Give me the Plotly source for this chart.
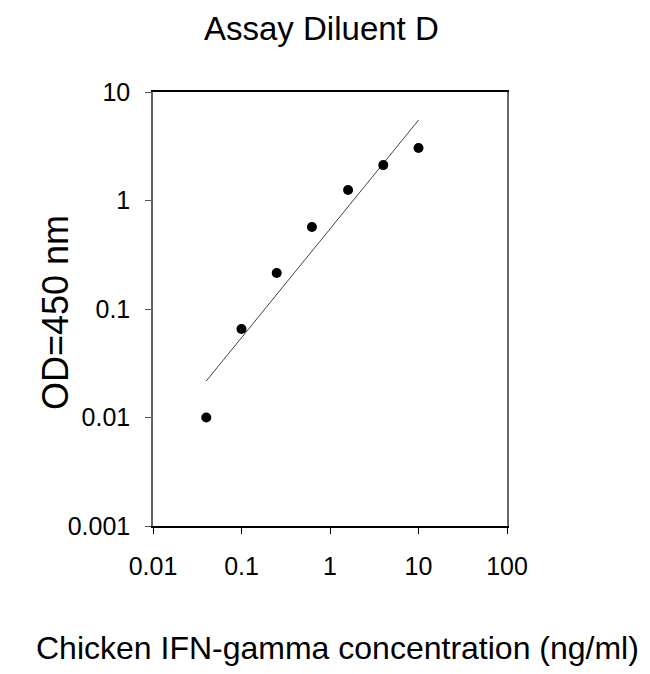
import plotly.graph_objects as go

# Data
conc = [0.04, 0.1, 0.25, 0.625, 1.6, 4.0, 10.0]
od = [0.0100, 0.0655, 0.215, 0.57, 1.25, 2.12, 3.05]
fit_x = [0.04, 10.0]
fit_y = [0.0217, 5.5]

x_ticks = [0.01, 0.1, 1, 10, 100]
x_tick_labels = ["0.01", "0.1", "1", "10", "100"]
y_ticks = [0.001, 0.01, 0.1, 1, 10]
y_tick_labels = ["0.001", "0.01", "0.1", "1", "10"]

FONT = "Liberation Sans, Arial, sans-serif"

fig = go.Figure()
fig.add_trace(go.Scatter(x=fit_x, y=fit_y, mode="lines",
                         line=dict(color="#444444", width=1), showlegend=False))
fig.add_trace(go.Scatter(x=conc, y=od, mode="markers",
                         marker=dict(color="black", size=10), showlegend=False))

W, H = 650, 674
L, R, T, B = 145, 151, 84, 156
PW, PH = W - L - R, H - T - B

fig.update_layout(
    width=W, height=H,
    margin=dict(l=L, r=R, t=T, b=B),
    plot_bgcolor="white", paper_bgcolor="white",
    font=dict(family=FONT, color="black"),
)
fig.update_xaxes(type="log", range=[-2, 2], tickvals=x_ticks, ticktext=x_tick_labels,
                 showgrid=False, zeroline=False, showline=True, linecolor="black",
                 linewidth=2, mirror=True, ticks="outside", ticklen=6, tickcolor="black",
                 ticklabelstandoff=11,
                 tickfont=dict(family=FONT, size=25, color="black"))
fig.update_yaxes(type="log", range=[-3, 1], tickvals=y_ticks, ticktext=y_tick_labels,
                 showgrid=False, zeroline=False, showline=True, linecolor="#666666",
                 linewidth=1.5, mirror=True, ticks="outside", ticklen=6, tickcolor="#555555",
                 ticklabelstandoff=10,
                 tickfont=dict(family=FONT, size=25, color="black"))

# Title
fig.add_annotation(text="Assay Diluent D", xref="paper", yref="paper",
                   x=(313 - L) / PW, y=1, yshift=(T - 20), xanchor="center", yanchor="middle",
                   showarrow=False, font=dict(family=FONT, size=33, color="black"))
# X axis title
fig.add_annotation(text="Chicken IFN-gamma concentration (ng/ml)",
                   xref="paper", yref="paper", x=(329 - L) / PW, y=0,
                   yshift=-(640 - (H - B)), xanchor="center", yanchor="middle",
                   showarrow=False, font=dict(family=FONT, size=32, color="black"))
# Y axis title
fig.add_annotation(text="OD=450 nm", textangle=-90,
                   xref="paper", yref="paper", x=0, y=(H - B - 305) / PH,
                   xshift=-(L - 47), xanchor="center", yanchor="middle",
                   showarrow=False, font=dict(family=FONT, size=36, color="black"))

fig.write_html("out.html")
